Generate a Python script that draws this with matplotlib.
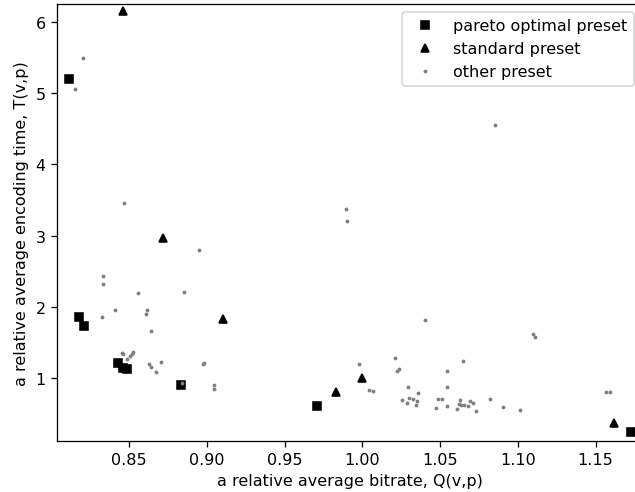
import matplotlib
matplotlib.use("Agg")
import matplotlib.pyplot as plt

# pareto optimal presets
pareto_q = [0.8114, 0.8180, 0.8210, 0.8430, 0.8460, 0.8485, 0.8834, 0.9706, 1.1726]
pareto_t = [5.20, 1.86, 1.73, 1.21, 1.14, 1.12, 0.897, 0.60, 0.246]

# standard presets
standard_q = [0.8460, 0.8720, 0.9106, 0.9830, 0.9996, 1.1620]
standard_t = [6.15, 2.96, 1.83, 0.80, 0.995, 0.368]

# other presets
other_q = [0.8202, 0.8151, 1.0852, 0.8468, 0.8950, 0.8331, 0.8331, 0.8560, 0.8855,
           0.8408, 0.8614, 0.8607, 0.8325, 0.8643, 0.8453, 0.8461, 0.8528, 0.8521,
           0.8506, 0.8485, 0.8626, 0.8641, 0.8674, 0.8706, 0.8982, 0.8974, 0.9046,
           0.9046, 0.8840, 0.9897, 0.9903, 1.0404, 0.9980, 1.0208, 1.0235, 1.0224,
           1.0542, 1.0042, 1.0072, 1.0291, 1.0359, 1.0542, 1.0255, 1.0285, 1.0300,
           1.0327, 1.0353, 1.0344, 1.0488, 1.0510, 1.0473, 1.0548, 1.1098, 1.1114,
           1.0649, 1.0627, 1.0621, 1.0638, 1.0655, 1.0677, 1.0696, 1.0709, 1.0610,
           1.0730, 1.0822, 1.0906, 1.1013, 1.1570, 1.1596]
other_t = [5.50, 5.06, 4.55, 3.46, 2.80, 2.43, 2.32, 2.20, 2.21,
           1.95, 1.955, 1.90, 1.85, 1.66, 1.35, 1.33, 1.37, 1.34,
           1.31, 1.27, 1.19, 1.15, 1.09, 1.22, 1.21, 1.20, 0.906,
           0.85, 0.93, 3.38, 3.20, 1.815, 1.19, 1.285, 1.13, 1.10,
           1.10, 0.836, 0.817, 0.87, 0.79, 0.87, 0.687, 0.653, 0.72,
           0.705, 0.67, 0.62, 0.705, 0.705, 0.583, 0.60, 1.62, 1.58,
           1.235, 0.687, 0.635, 0.625, 0.617, 0.607, 0.67, 0.645, 0.57,
           0.54, 0.705, 0.59, 0.555, 0.81, 0.81]

dpi = 115
fig = plt.figure(figsize=(635 / dpi, 493 / dpi), dpi=dpi)
ax = fig.add_axes([57 / 635, 51.3 / 493, 585 / 635, 436.7 / 493])

ax.plot(pareto_q, pareto_t, 's', color='black', markersize=5, label='pareto optimal preset')
ax.plot(standard_q, standard_t, '^', color='black', markersize=5.5, label='standard preset')
ax.plot(other_q, other_t, 'o', color='gray', markersize=1.4, label='other preset')

ax.set_xlim(0.8037, 1.1799)
ax.set_ylim(0.119, 6.253)
ax.set_xticks([0.85, 0.90, 0.95, 1.00, 1.05, 1.10, 1.15])

ax.set_xlabel('a relative average bitrate, Q(v,p)')
ax.set_ylabel('a relative average encoding time, T(v,p)')
ax.legend(loc='upper right')

plt.savefig('out.png', dpi=dpi)
